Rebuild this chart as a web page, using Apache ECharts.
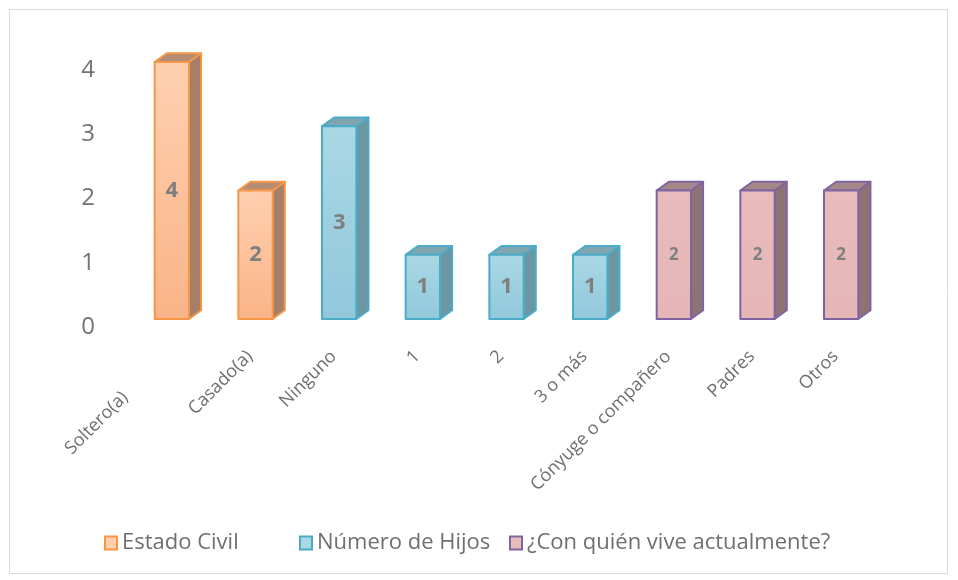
<!DOCTYPE html>
<html>
<head>
<meta charset="utf-8">
<script src="https://cdn.jsdelivr.net/npm/echarts@6/dist/echarts.min.js"></script>
<style>
  html, body { margin: 0; padding: 0; background: #fff; }
  #chart { width: 958px; height: 580px; }
</style>
</head>
<body>
<div id="chart"></div>
<script>
!(function (window) {
    const { echarts } = window;

    // categorías del eje x
    const categories = ['Soltero(a)', 'Casado(a)', 'Ninguno', '1', '2', '3 o más', 'Cónyuge o compañero', 'Padres', 'Otros'];
    const yTicks = [0, 1, 2, 3, 4];

    // valores por serie (null = sin barra)
    const estadoCivil = [4, 2, null, null, null, null, null, null, null];
    const numeroHijos = [null, null, 3, 1, 1, 1, null, null, null];
    const conQuien = [null, null, null, null, null, null, 2, 2, 2];

    const seriesNames = ['Estado Civil', 'Número de Hijos', '¿Con quién vive actualmente?'];

    const styles = [
        { top: '#FFD0B0', bottom: '#F9B488', border: '#F79646', side: '#A67F68', cap: '#B58C74', label: 22 },
        { top: '#AAD8E5', bottom: '#90C8DA', border: '#4BACC6', side: '#6C96A2', cap: '#7FA5B0', label: 22 },
        { top: '#E8BCBB', bottom: '#E5B6B5', border: '#8064A2', side: '#8E7374', cap: '#A58788', label: 17 },
    ];

    const toData = arr => arr.map((v, i) => (v == null ? null : [i, v])).filter(Boolean);

    const makeRender = st => (params, api) => {
        const cat = api.value(0);
        const val = api.value(1);
        const base = api.coord([cat, 0]);
        const topPt = api.coord([cat, val]);
        const band = api.size([1, 0])[0];
        const w = band * 0.41;
        const dx = band * 0.145;
        const dy = dx * 0.72;
        const x0 = base[0] - w / 2;
        const x1 = base[0] + w / 2;
        const y0 = base[1];
        const y1 = topPt[1];
        const line = { stroke: st.border, lineWidth: 2, lineJoin: 'round' };
        return {
            type: 'group',
            children: [
                {
                    type: 'polygon',
                    shape: { points: [[x1, y1], [x1 + dx, y1 - dy], [x1 + dx, y0 - dy], [x1, y0]] },
                    style: Object.assign({ fill: st.side }, line),
                },
                {
                    type: 'polygon',
                    shape: { points: [[x0, y1], [x0 + dx, y1 - dy], [x1 + dx, y1 - dy], [x1, y1]] },
                    style: Object.assign({ fill: st.cap }, line),
                },
                {
                    type: 'rect',
                    shape: { x: x0, y: y1, width: w, height: y0 - y1 },
                    style: Object.assign({
                        fill: new echarts.graphic.LinearGradient(0, 0, 0, 1, [
                            { offset: 0, color: st.top },
                            { offset: 1, color: st.bottom },
                        ]),
                    }, line),
                },
                {
                    type: 'text',
                    x: base[0],
                    y: (y0 + y1) / 2,
                    style: {
                        text: String(val),
                        fill: '#7F7F7F',
                        font: `bold ${st.label}px "Open Sans"`,
                        align: 'center',
                        verticalAlign: 'middle',
                    },
                },
            ],
        };
    };

    const allData = [estadoCivil, numeroHijos, conQuien];
    const legendLeft = [104, 299, 509];

    const chart = echarts.init(document.getElementById('chart'));
    chart.setOption({
        animation: false,
        textStyle: { fontFamily: 'Open Sans' },
        graphic: [{
            type: 'rect',
            shape: { x: 9.5, y: 9.5, width: 938, height: 564 },
            style: { fill: 'none', stroke: '#D9D9D9', lineWidth: 1 },
        }],
        grid: { left: 130, right: 75, top: 62, bottom: 261 },
        legend: seriesNames.map((name, k) => ({
            top: 532,
            left: legendLeft[k],
            icon: 'rect',
            itemWidth: 12,
            itemHeight: 13,
            padding: 0,
            textStyle: { fontSize: 22, color: '#6F6F6F', fontFamily: 'Open Sans' },
            data: [name],
        })),
        xAxis: {
            type: 'category',
            data: categories.map((c, i) => ({
                value: c,
                textStyle: { padding: [0, i === 0 ? 66 : 8, 16, 0] },
            })),
            axisLine: { show: false },
            axisTick: { show: false },
            axisLabel: {
                rotate: 45,
                margin: 29,
                interval: 0,
                fontSize: 18,
                color: '#6F6F6F',
            },
        },
        yAxis: {
            type: 'value',
            min: yTicks[0],
            max: yTicks[yTicks.length - 1],
            interval: 1,
            splitLine: { show: false },
            axisLine: { show: false },
            axisTick: { show: false },
            axisLabel: {
                margin: 35,
                formatter: v => `{t|${v}}`,
                rich: {
                    t: { fontSize: 24, color: '#737373', padding: [16, 0, 0, 0] },
                },
            },
        },
        series: allData.map((arr, k) => ({
            name: seriesNames[k],
            type: 'custom',
            renderItem: makeRender(styles[k]),
            encode: { x: 0, y: 1 },
            itemStyle: { color: styles[k].top, borderColor: styles[k].border, borderWidth: 2 },
            data: toData(arr),
        })),
    });
}(window));
</script>
</body>
</html>
